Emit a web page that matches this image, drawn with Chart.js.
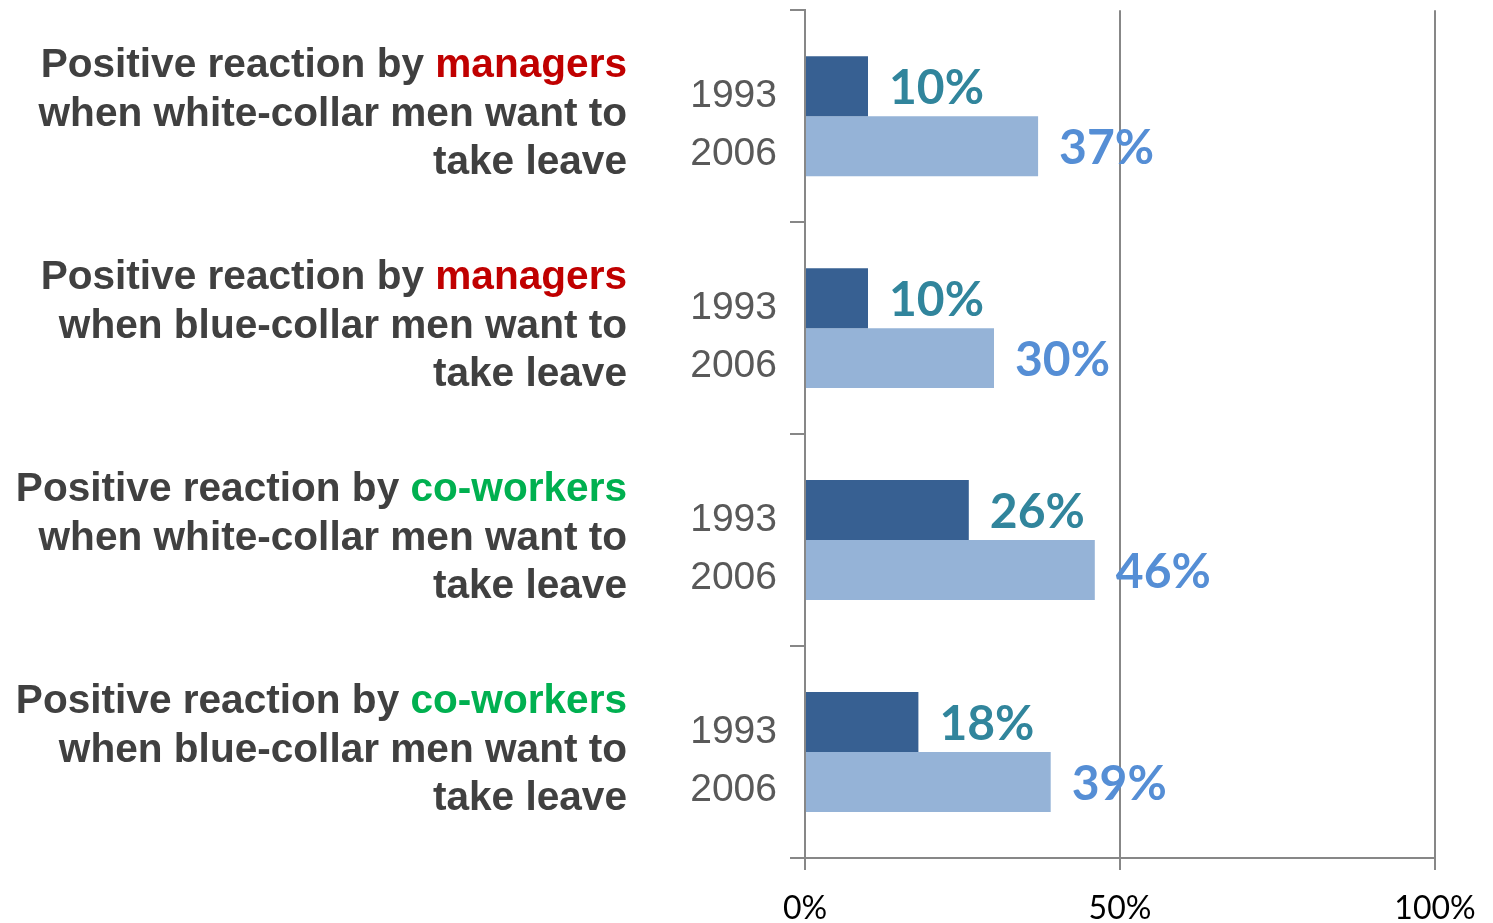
<!DOCTYPE html>
<html>
<head>
<meta charset="utf-8">
<script src="https://cdn.jsdelivr.net/npm/chart.js@4.4.1/dist/chart.umd.min.js"></script>
<style>
  html, body { margin: 0; padding: 0; background: #fff; }
  #wrap { width: 1493px; height: 923px; }
</style>
</head>
<body>
<div id="wrap"><canvas id="grafico"></canvas></div>
<script>
// --- dados ---
const categorias = ['mgr-white', 'mgr-blue', 'cow-white', 'cow-blue'];
const rotuloInicio = ['Positive reaction by ', 'Positive reaction by ', 'Positive reaction by ', 'Positive reaction by '];
const rotuloDestaque = ['managers', 'managers', 'co-workers', 'co-workers'];
const rotuloLinha2 = ['when white-collar men want to', 'when blue-collar men want to', 'when white-collar men want to', 'when blue-collar men want to'];
const rotuloLinha3 = ['take leave', 'take leave', 'take leave', 'take leave'];
const anos = ['1993', '2006'];
const valores1993 = [10, 10, 26, 18];
const valores2006 = [37, 30, 46, 39];
const ticksX = [0, 50, 100];

const CINZA = '#878787';
const corDestaque = { 'managers': '#C00000', 'co-workers': '#00B050' };
const corRotulo = ['#31859C', '#558ED5'];

// rótulos das categorias e dos anos (lado esquerdo)
const rotulosEsquerda = {
    id: 'rotulosEsquerda',
    afterDraw(chart) {
        const ctx = chart.ctx;
        const y = chart.scales.y;
        ctx.save();
        categorias.forEach((c, i) => {
            const cy = y.getPixelForValue(i);
            const xr = 627;
            ctx.textBaseline = 'alphabetic';
            ctx.textAlign = 'right';
            ctx.font = 'bold 40.6px "Liberation Sans", Arial, sans-serif';
            // linha 1 com palavra colorida
            ctx.fillStyle = corDestaque[rotuloDestaque[i]];
            ctx.fillText(rotuloDestaque[i], xr, cy - 39);
            const w = ctx.measureText(rotuloDestaque[i]).width;
            ctx.fillStyle = '#404040';
            ctx.fillText(rotuloInicio[i], xr - w, cy - 39);
            ctx.fillText(rotuloLinha2[i], xr, cy + 10);
            ctx.fillText(rotuloLinha3[i], xr, cy + 58);
            // anos
            ctx.font = '39px "Liberation Sans", Arial, sans-serif';
            ctx.fillStyle = '#595959';
            ctx.fillText(anos[0], 777, cy - 9);
            ctx.fillText(anos[1], 777, cy + 49);
        });
        ctx.restore();
    }
};

// rótulos de valor nas barras
const rotulosValor = {
    id: 'rotulosValor',
    afterDatasetsDraw(chart) {
        const ctx = chart.ctx;
        ctx.save();
        ctx.font = 'bold 48px Lato, "Open Sans", sans-serif';
        ctx.textAlign = 'left';
        ctx.textBaseline = 'middle';
        chart.data.datasets.forEach((ds, di) => {
            const meta = chart.getDatasetMeta(di);
            ctx.fillStyle = corRotulo[di];
            meta.data.forEach((bar, i) => {
                ctx.fillText(ds.data[i] + '%', bar.x + 21, bar.y + 2);
            });
        });
        ctx.restore();
    }
};

new Chart(document.getElementById('grafico'), {
    type: 'bar',
    data: {
        labels: categorias,
        datasets: [
            { label: anos[0], data: valores1993, backgroundColor: '#376092', barPercentage: 1.0, categoryPercentage: 0.566 },
            { label: anos[1], data: valores2006, backgroundColor: '#95B3D7', barPercentage: 1.0, categoryPercentage: 0.566 }
        ]
    },
    options: {
        indexAxis: 'y',
        responsive: true,
        maintainAspectRatio: false,
        animation: false,
        layout: { padding: { top: 10, right: 58, bottom: 0, left: 0 } },
        plugins: { legend: { display: false }, tooltip: { enabled: false } },
        scales: {
            x: {
                min: 0,
                max: 100,
                afterBuildTicks: (s) => { s.ticks = ticksX.map(v => ({ value: v })); },
                ticks: {
                    callback: (v) => v + '%',
                    color: '#000',
                    font: { family: 'Lato', size: 32 },
                    padding: 19,
                    maxRotation: 0
                },
                grid: { color: CINZA, lineWidth: 2, tickLength: 12 },
                border: { color: CINZA, width: 2 },
                afterFit: (s) => { s.height = 65; s.paddingLeft = 0; s.paddingRight = 0; }
            },
            y: {
                ticks: { callback: () => '' },
                grid: { color: CINZA, lineWidth: 2, tickLength: 15, drawOnChartArea: false, offset: true },
                border: { color: CINZA, width: 2 },
                afterFit: (s) => { s.width = 805; }
            }
        }
    },
    plugins: [rotulosEsquerda, rotulosValor]
});
</script>
</body>
</html>
